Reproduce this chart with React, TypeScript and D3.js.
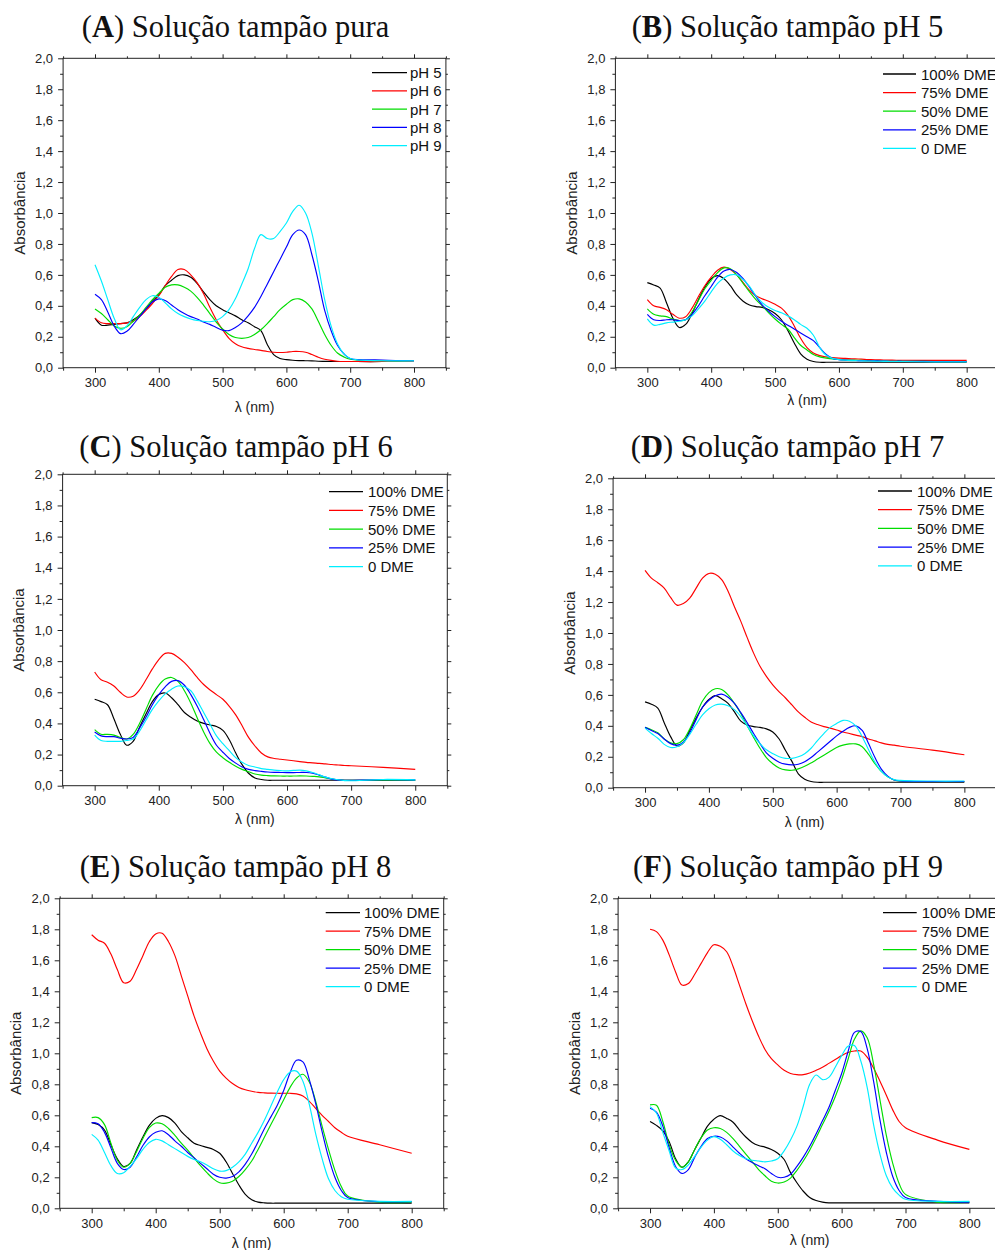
import React, { useEffect, useRef } from 'react';
import * as d3 from 'd3';

// Wavelength grid (nm) shared by every spectrum
const WAVELENGTHS = [300,310,320,330,340,350,360,370,380,390,400,410,420,430,440,450,460,470,480,490,500,510,520,530,540,550,560,570,580,590,600,610,620,630,640,650,660,670,680,690,700,750,800];

const PH_LABELS = ['pH 5', 'pH 6', 'pH 7', 'pH 8', 'pH 9'];
const DME_LABELS = ['100% DME', '75% DME', '50% DME', '25% DME', '0 DME'];
const SERIES_COLORS = ['#000000', '#ff0000', '#00dd00', '#0000ff', '#00eeff'];
const Y_MAJOR = [0, 0.2, 0.4, 0.6, 0.8, 1.0, 1.2, 1.4, 1.6, 1.8, 2.0];
const Y_MINOR = [0.1, 0.3, 0.5, 0.7, 0.9, 1.1, 1.3, 1.5, 1.7, 1.9];
const X_MAJOR = [300, 400, 500, 600, 700, 800];
const X_MINOR = [250, 350, 450, 550, 650, 750, 850];

// (A) pure buffer
const A_PH5 = [0.32,0.275,0.275,0.28,0.285,0.29,0.31,0.34,0.38,0.43,
  0.47,0.53,0.565,0.595,0.60,0.585,0.545,0.49,0.44,0.40,
  0.375,0.355,0.335,0.31,0.29,0.265,0.24,0.15,0.085,0.06,
  0.052,0.048,0.046,0.045,0.044,0.042,0.041,0.04,0.04,0.04,
  0.04,0.04,0.045];
const A_PH6 = [0.32,0.29,0.285,0.285,0.285,0.29,0.30,0.33,0.37,0.415,
  0.465,0.53,0.59,0.635,0.635,0.60,0.55,0.48,0.39,0.31,
  0.245,0.19,0.155,0.135,0.125,0.118,0.112,0.105,0.10,0.098,
  0.10,0.105,0.105,0.10,0.085,0.068,0.055,0.047,0.042,0.04,
  0.04,0.04,0.045];
const A_PH7 = [0.38,0.35,0.31,0.27,0.255,0.265,0.30,0.34,0.39,0.44,
  0.48,0.52,0.535,0.535,0.52,0.495,0.455,0.405,0.35,0.295,
  0.25,0.215,0.195,0.19,0.195,0.215,0.245,0.285,0.33,0.375,
  0.41,0.44,0.445,0.425,0.38,0.30,0.215,0.145,0.095,0.07,
  0.055,0.045,0.045];
const A_PH8 = [0.475,0.44,0.36,0.27,0.22,0.235,0.28,0.33,0.38,0.425,
  0.445,0.435,0.405,0.375,0.35,0.33,0.315,0.295,0.28,0.26,
  0.243,0.24,0.26,0.29,0.335,0.39,0.46,0.54,0.62,0.70,
  0.78,0.86,0.89,0.86,0.73,0.56,0.37,0.24,0.145,0.09,
  0.06,0.05,0.045];
const A_PH9 = [0.665,0.56,0.44,0.32,0.245,0.27,0.33,0.39,0.44,0.465,
  0.455,0.42,0.38,0.35,0.33,0.315,0.305,0.30,0.297,0.305,
  0.33,0.375,0.445,0.54,0.64,0.77,0.86,0.835,0.835,0.88,
  0.935,1.01,1.05,1.0,0.87,0.66,0.44,0.27,0.155,0.09,
  0.06,0.045,0.045];

// (B) buffer pH 5
const B_100 = [0.55,0.535,0.515,0.42,0.32,0.26,0.28,0.35,0.44,0.52,
  0.575,0.595,0.575,0.53,0.47,0.43,0.405,0.395,0.39,0.375,
  0.35,0.31,0.24,0.16,0.09,0.055,0.04,0.035,0.035,0.035,
  0.035,0.035,0.035,0.035,0.035,0.035,0.035,0.035,0.035,0.035,
  0.035,0.035,0.035];
const B_75 = [0.44,0.40,0.39,0.375,0.345,0.32,0.33,0.385,0.46,0.53,
  0.585,0.63,0.65,0.635,0.60,0.55,0.50,0.465,0.445,0.43,
  0.41,0.385,0.34,0.27,0.19,0.13,0.095,0.078,0.07,0.065,
  0.062,0.06,0.058,0.056,0.054,0.052,0.051,0.05,0.049,0.048,
  0.048,0.047,0.047];
const B_50 = [0.38,0.345,0.335,0.33,0.315,0.305,0.31,0.36,0.435,0.51,
  0.565,0.615,0.645,0.64,0.60,0.545,0.49,0.44,0.40,0.355,
  0.315,0.28,0.25,0.195,0.145,0.115,0.085,0.07,0.062,0.056,
  0.053,0.05,0.049,0.048,0.046,0.045,0.044,0.043,0.042,0.042,
  0.042,0.04,0.04];
const B_25 = [0.345,0.31,0.305,0.31,0.31,0.305,0.31,0.345,0.40,0.465,
  0.525,0.585,0.625,0.635,0.615,0.575,0.52,0.46,0.405,0.365,
  0.33,0.30,0.275,0.25,0.225,0.20,0.175,0.13,0.085,0.06,
  0.052,0.049,0.047,0.046,0.045,0.045,0.044,0.043,0.042,0.042,
  0.042,0.04,0.04];
const B_0 = [0.315,0.275,0.28,0.29,0.295,0.30,0.31,0.335,0.38,0.43,
  0.49,0.545,0.58,0.60,0.60,0.57,0.525,0.465,0.42,0.39,
  0.37,0.355,0.335,0.31,0.28,0.255,0.21,0.13,0.08,0.06,
  0.052,0.048,0.046,0.045,0.044,0.043,0.042,0.041,0.04,0.04,
  0.04,0.038,0.038];

// (C) buffer pH 6
const C_100 = [0.555,0.54,0.52,0.43,0.33,0.26,0.285,0.375,0.46,0.54,
  0.585,0.595,0.565,0.52,0.47,0.44,0.415,0.40,0.39,0.38,
  0.355,0.295,0.21,0.135,0.08,0.05,0.04,0.035,0.035,0.035,
  0.035,0.035,0.035,0.035,0.035,0.035,0.035,0.035,0.035,0.035,
  0.035,0.035,0.035];
const C_75 = [0.73,0.68,0.665,0.64,0.60,0.57,0.575,0.615,0.68,0.75,
  0.81,0.85,0.85,0.825,0.79,0.745,0.695,0.65,0.615,0.585,
  0.555,0.51,0.455,0.385,0.31,0.255,0.21,0.185,0.175,0.17,
  0.165,0.16,0.155,0.15,0.147,0.143,0.14,0.136,0.133,0.13,
  0.128,0.118,0.105];
const C_50 = [0.36,0.33,0.33,0.325,0.31,0.30,0.33,0.40,0.49,0.58,
  0.645,0.685,0.695,0.67,0.61,0.53,0.435,0.345,0.27,0.215,
  0.18,0.15,0.125,0.105,0.09,0.075,0.068,0.065,0.063,0.062,
  0.062,0.062,0.063,0.062,0.06,0.057,0.05,0.043,0.038,0.035,
  0.035,0.035,0.035];
const C_25 = [0.345,0.32,0.315,0.315,0.305,0.30,0.31,0.37,0.44,0.52,
  0.585,0.635,0.67,0.675,0.645,0.585,0.51,0.425,0.335,0.26,
  0.215,0.175,0.145,0.12,0.105,0.097,0.092,0.088,0.086,0.085,
  0.084,0.084,0.085,0.085,0.08,0.068,0.055,0.042,0.037,0.035,
  0.035,0.038,0.037];
const C_0 = [0.325,0.29,0.285,0.285,0.285,0.29,0.30,0.35,0.42,0.49,
  0.545,0.59,0.62,0.64,0.635,0.61,0.545,0.47,0.395,0.32,
  0.27,0.225,0.18,0.15,0.13,0.12,0.11,0.105,0.10,0.097,
  0.095,0.098,0.10,0.095,0.085,0.07,0.055,0.045,0.038,0.033,
  0.032,0.04,0.037];

// (D) buffer pH 7
const D_100 = [0.555,0.54,0.515,0.42,0.33,0.27,0.29,0.37,0.45,0.52,
  0.57,0.595,0.575,0.545,0.49,0.43,0.405,0.395,0.39,0.38,
  0.36,0.315,0.24,0.17,0.09,0.055,0.04,0.035,0.035,0.035,
  0.035,0.035,0.035,0.035,0.035,0.035,0.035,0.035,0.035,0.035,
  0.035,0.035,0.035];
const D_75 = [1.405,1.355,1.325,1.29,1.23,1.18,1.19,1.225,1.29,1.355,
  1.385,1.38,1.345,1.27,1.17,1.075,0.97,0.87,0.785,0.72,
  0.665,0.62,0.58,0.535,0.49,0.455,0.425,0.408,0.395,0.385,
  0.373,0.36,0.35,0.34,0.33,0.315,0.303,0.29,0.28,0.275,
  0.268,0.243,0.213];
const D_50 = [0.39,0.375,0.355,0.315,0.29,0.285,0.31,0.38,0.47,0.56,
  0.615,0.64,0.635,0.60,0.545,0.48,0.40,0.325,0.255,0.195,
  0.155,0.128,0.115,0.113,0.122,0.138,0.16,0.185,0.21,0.235,
  0.26,0.275,0.283,0.283,0.265,0.215,0.155,0.105,0.07,0.05,
  0.043,0.04,0.04];
const D_25 = [0.39,0.37,0.35,0.315,0.285,0.275,0.295,0.355,0.44,0.52,
  0.565,0.595,0.605,0.585,0.545,0.485,0.42,0.35,0.285,0.225,
  0.19,0.165,0.152,0.148,0.152,0.168,0.195,0.23,0.265,0.30,
  0.335,0.365,0.39,0.40,0.37,0.285,0.195,0.12,0.075,0.05,
  0.043,0.04,0.04];
const D_0 = [0.385,0.35,0.32,0.28,0.26,0.265,0.29,0.345,0.41,0.47,
  0.51,0.535,0.54,0.53,0.505,0.46,0.40,0.335,0.285,0.245,
  0.22,0.20,0.19,0.19,0.20,0.22,0.255,0.305,0.35,0.39,
  0.415,0.435,0.43,0.40,0.33,0.245,0.165,0.105,0.07,0.052,
  0.047,0.043,0.043];

// (E) buffer pH 8
const E_100 = [0.553,0.54,0.505,0.41,0.32,0.27,0.29,0.375,0.46,0.535,
  0.58,0.598,0.585,0.55,0.495,0.455,0.42,0.405,0.393,0.38,
  0.355,0.30,0.225,0.15,0.09,0.055,0.04,0.035,0.033,0.033,
  0.033,0.033,0.033,0.033,0.033,0.033,0.033,0.033,0.033,0.033,
  0.033,0.033,0.033];
const E_75 = [1.765,1.73,1.71,1.64,1.54,1.455,1.465,1.54,1.63,1.72,
  1.77,1.775,1.72,1.63,1.50,1.37,1.24,1.13,1.03,0.95,
  0.885,0.84,0.805,0.78,0.765,0.755,0.748,0.745,0.743,0.742,
  0.742,0.742,0.738,0.725,0.69,0.645,0.60,0.56,0.52,0.49,
  0.465,0.41,0.355];
const E_50 = [0.585,0.585,0.54,0.42,0.31,0.265,0.29,0.365,0.45,0.52,
  0.55,0.545,0.515,0.47,0.42,0.375,0.325,0.275,0.23,0.19,
  0.165,0.162,0.175,0.205,0.25,0.305,0.38,0.46,0.54,0.62,
  0.70,0.78,0.84,0.865,0.815,0.69,0.53,0.38,0.245,0.14,
  0.08,0.04,0.04];
const E_25 = [0.553,0.545,0.49,0.39,0.29,0.25,0.265,0.33,0.405,0.46,
  0.49,0.50,0.475,0.435,0.40,0.36,0.325,0.29,0.255,0.22,
  0.20,0.195,0.205,0.235,0.285,0.35,0.43,0.515,0.59,0.665,
  0.76,0.875,0.955,0.945,0.83,0.675,0.495,0.33,0.20,0.115,
  0.07,0.043,0.043];
const E_0 = [0.477,0.44,0.36,0.275,0.225,0.23,0.27,0.32,0.38,0.425,
  0.445,0.435,0.41,0.385,0.36,0.335,0.315,0.30,0.28,0.255,
  0.24,0.243,0.265,0.30,0.35,0.42,0.49,0.57,0.66,0.75,
  0.83,0.88,0.885,0.82,0.67,0.48,0.32,0.19,0.115,0.075,
  0.058,0.045,0.045];

// (F) buffer pH 9
const F_100 = [0.56,0.535,0.50,0.43,0.32,0.265,0.30,0.38,0.455,0.53,
  0.575,0.598,0.58,0.555,0.505,0.46,0.425,0.405,0.395,0.38,
  0.355,0.315,0.23,0.165,0.11,0.07,0.05,0.04,0.035,0.035,
  0.035,0.035,0.035,0.035,0.035,0.035,0.035,0.035,0.035,0.035,
  0.035,0.035,0.035];
const F_75 = [1.80,1.785,1.73,1.635,1.525,1.44,1.45,1.51,1.58,1.65,
  1.70,1.69,1.655,1.56,1.44,1.32,1.21,1.11,1.025,0.965,
  0.925,0.89,0.87,0.862,0.862,0.873,0.89,0.91,0.935,0.96,
  0.985,1.005,1.015,1.015,0.975,0.905,0.82,0.73,0.635,0.56,
  0.52,0.44,0.38];
const F_50 = [0.667,0.665,0.56,0.41,0.31,0.265,0.30,0.38,0.455,0.505,
  0.52,0.515,0.49,0.45,0.40,0.35,0.30,0.25,0.21,0.175,
  0.163,0.17,0.195,0.245,0.305,0.375,0.455,0.54,0.625,0.72,
  0.83,0.96,1.09,1.145,1.10,0.93,0.70,0.47,0.29,0.16,
  0.09,0.04,0.04];
const F_25 = [0.645,0.62,0.53,0.39,0.27,0.225,0.25,0.33,0.40,0.45,
  0.465,0.46,0.435,0.395,0.355,0.32,0.295,0.275,0.255,0.225,
  0.20,0.20,0.22,0.27,0.33,0.40,0.48,0.565,0.65,0.76,
  0.87,1.01,1.135,1.14,1.03,0.82,0.57,0.36,0.205,0.115,
  0.07,0.045,0.04];
const F_0 = [0.656,0.615,0.49,0.37,0.26,0.25,0.28,0.335,0.395,0.44,
  0.462,0.445,0.41,0.37,0.34,0.32,0.31,0.305,0.30,0.305,
  0.32,0.37,0.44,0.53,0.66,0.80,0.86,0.83,0.845,0.91,
  0.985,1.045,1.05,0.95,0.78,0.54,0.35,0.21,0.13,0.085,
  0.058,0.045,0.045];

// Layout of the six panels (pixel geometry only)
const PANELS = [
  { letter: 'A', rest: ' Solução tampão pura', left: 63.1, right: 445.9, top: 58.3, bottom: 367.7,
    titleX: 235.5, titleY: 37, lx1: 372, lx2: 407, tx: 410, ly: 72.7, dy: 18.25, xlabY: 412,
    labels: PH_LABELS, series: [A_PH5, A_PH6, A_PH7, A_PH8, A_PH9] },
  { letter: 'B', rest: ' Solução tampão pH 5', left: 615.4, right: 998.6, top: 58.3, bottom: 367.7,
    titleX: 787.5, titleY: 37, lx1: 883, lx2: 916, tx: 921, ly: 74, dy: 18.6, xlabY: 405,
    labels: DME_LABELS, series: [B_100, B_75, B_50, B_25, B_0] },
  { letter: 'C', rest: ' Solução tampão pH 6', left: 62.6, right: 447.3, top: 474.3, bottom: 785.7,
    titleX: 236, titleY: 457, lx1: 329, lx2: 363, tx: 368, ly: 491.7, dy: 18.75, xlabY: 824,
    labels: DME_LABELS, series: [C_100, C_75, C_50, C_25, C_0] },
  { letter: 'D', rest: ' Solução tampão pH 7', left: 613.1, right: 996.3, top: 478.3, bottom: 787.7,
    titleX: 787.5, titleY: 457, lx1: 878, lx2: 912, tx: 917, ly: 491, dy: 18.7, xlabY: 827,
    labels: DME_LABELS, series: [D_100, D_75, D_50, D_25, D_0] },
  { letter: 'E', rest: ' Solução tampão pH 8', left: 59.7, right: 443.7, top: 898.3, bottom: 1208.3,
    titleX: 235.5, titleY: 877, lx1: 325.7, lx2: 360, tx: 364, ly: 912.7, dy: 18.5, xlabY: 1248,
    labels: DME_LABELS, series: [E_100, E_75, E_50, E_25, E_0] },
  { letter: 'F', rest: ' Solução tampão pH 9', left: 618.1, right: 1001.3, top: 898.3, bottom: 1208.3,
    titleX: 788, titleY: 877, lx1: 883, lx2: 916.7, tx: 921.7, ly: 912.7, dy: 18.5, xlabY: 1245,
    labels: DME_LABELS, series: [F_100, F_75, F_50, F_25, F_0] },
];

const SANS = '"Liberation Sans", Arial, Helvetica, sans-serif';
const SERIF = '"Liberation Serif", "Times New Roman", serif';
const INK = '#222';

function drawPanel(svg: any, p: any) {
  const x = d3.scaleLinear().domain([250, 850]).range([p.left, p.right]);
  const y = d3.scaleLinear().domain([0, 2]).range([p.bottom, p.top]);
  const g = svg.append('g');

  // title
  const t = g.append('text')
    .attr('x', p.titleX).attr('y', p.titleY)
    .attr('text-anchor', 'middle')
    .attr('font-family', SERIF).attr('font-size', 30.5).attr('fill', '#111');
  t.append('tspan').text('(');
  t.append('tspan').attr('font-weight', 'bold').text(p.letter);
  t.append('tspan').text(')' + p.rest);

  const fmt = (d: number) => d3.format('.1f')(d).replace('.', ',');
  const style = (sel: any) => {
    sel.attr('font-family', SANS).attr('font-size', 13);
    sel.select('.domain').remove();
    sel.selectAll('line').attr('stroke', INK);
    sel.selectAll('text').attr('fill', INK);
  };

  // axes ticks
  g.append('g').attr('transform', `translate(${p.left},0)`)
    .call(d3.axisLeft(y).tickValues(Y_MAJOR).tickSize(5).tickSizeOuter(0).tickPadding(5).tickFormat(fmt as any)).call(style);
  g.append('g').attr('transform', `translate(${p.left},0)`)
    .call(d3.axisLeft(y).tickValues(Y_MINOR).tickSize(3).tickSizeOuter(0).tickFormat(() => '')).call(style);
  g.append('g').attr('transform', `translate(${p.right},0)`)
    .call(d3.axisRight(y).tickValues(Y_MAJOR).tickSize(4).tickSizeOuter(0).tickFormat(() => '')).call(style);
  g.append('g').attr('transform', `translate(${p.right},0)`)
    .call(d3.axisRight(y).tickValues(Y_MINOR).tickSize(2).tickSizeOuter(0).tickFormat(() => '')).call(style);
  g.append('g').attr('transform', `translate(0,${p.bottom})`)
    .call(d3.axisBottom(x).tickValues(X_MAJOR).tickSize(5).tickSizeOuter(0).tickPadding(5).tickFormat(d3.format('d') as any)).call(style);
  g.append('g').attr('transform', `translate(0,${p.bottom})`)
    .call(d3.axisBottom(x).tickValues(X_MINOR).tickSize(3).tickSizeOuter(0).tickFormat(() => '')).call(style);
  g.append('g').attr('transform', `translate(0,${p.top})`)
    .call(d3.axisTop(x).tickValues(X_MAJOR).tickSize(4).tickSizeOuter(0).tickFormat(() => '')).call(style);
  g.append('g').attr('transform', `translate(0,${p.top})`)
    .call(d3.axisTop(x).tickValues(X_MINOR).tickSize(2).tickSizeOuter(0).tickFormat(() => '')).call(style);

  // frame
  g.append('rect')
    .attr('x', p.left).attr('y', p.top)
    .attr('width', p.right - p.left).attr('height', p.bottom - p.top)
    .attr('fill', 'none').attr('stroke', INK).attr('stroke-width', 1);

  // axis labels
  g.append('text')
    .attr('transform', `translate(${p.left - 44},${(p.top + p.bottom) / 2}) rotate(-90)`)
    .attr('text-anchor', 'middle').attr('dominant-baseline', 'central')
    .attr('font-family', SANS).attr('font-size', 15).attr('fill', INK)
    .text('Absorbância');
  g.append('text')
    .attr('x', (p.left + p.right) / 2).attr('y', p.xlabY)
    .attr('text-anchor', 'middle')
    .attr('font-family', SANS).attr('font-size', 14).attr('fill', INK)
    .text('λ (nm)');

  // spectra
  const line = d3.line<number>()
    .x((_, i) => x(WAVELENGTHS[i]))
    .y(d => y(d))
    .curve(d3.curveCatmullRom.alpha(0.5));
  p.series.forEach((s: number[], i: number) => {
    g.append('path').datum(s)
      .attr('d', line)
      .attr('fill', 'none')
      .attr('stroke', SERIES_COLORS[i])
      .attr('stroke-width', 1.15)
      .attr('stroke-linejoin', 'round');
  });

  // legend
  p.labels.forEach((lab: string, i: number) => {
    const yy = p.ly + i * p.dy;
    g.append('line')
      .attr('x1', p.lx1).attr('x2', p.lx2).attr('y1', yy).attr('y2', yy)
      .attr('stroke', SERIES_COLORS[i]).attr('stroke-width', 1.3);
    g.append('text')
      .attr('x', p.tx).attr('y', yy)
      .attr('dominant-baseline', 'central')
      .attr('font-family', SANS).attr('font-size', 15).attr('fill', '#111')
      .text(lab);
  });
}

export default function App() {
  const ref = useRef<SVGSVGElement>(null);
  useEffect(() => {
    const svg = d3.select(ref.current);
    svg.selectAll('*').remove();
    PANELS.forEach(p => drawPanel(svg, p));
  }, []);
  return (
    <svg
      ref={ref}
      width={995}
      height={1250}
      style={{ position: 'absolute', left: 0, top: 0, background: '#fff' }}
    />
  );
}
